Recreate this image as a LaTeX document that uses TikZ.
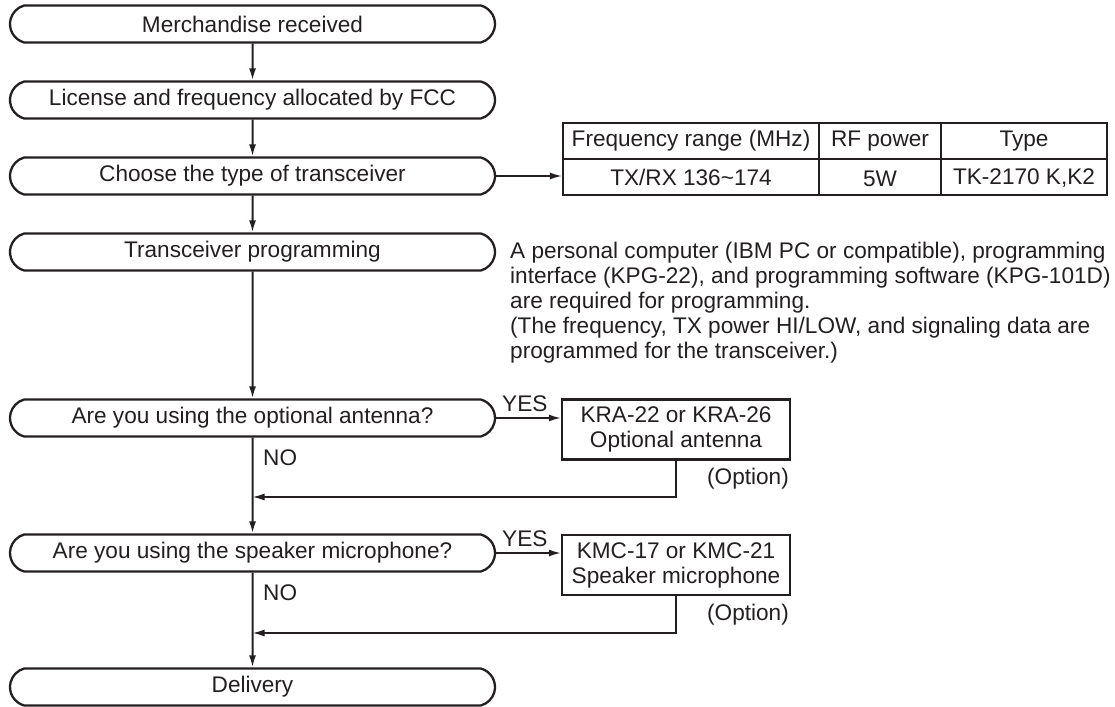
\documentclass[tikz,border=0pt]{standalone}
\usepackage{fontspec}
\setmainfont{Liberation Sans}
\usetikzlibrary{shapes.misc,arrows.meta}
\definecolor{ink}{HTML}{231F20}
\begin{document}
\begin{tikzpicture}[x=1pt,y=-1pt,
  every node/.style={font=\fontsize{22.6}{25}\selectfont, text=ink},
  stepbox/.style={draw=ink, line width=2.3pt, rounded rectangle, rounded rectangle arc length=150,
    minimum width=485pt, minimum height=37pt, inner sep=0pt},
  optbox/.style={draw=ink, line width=2.3pt, minimum width=228pt, minimum height=60pt,
    inner sep=0pt, align=center},
  flow/.style={draw=ink, line width=2pt, -{Latex[length=12pt,width=7pt]}},
  side/.style={draw=ink, line width=1.6pt, -{Latex[length=12pt,width=7pt]}},
  back/.style={draw=ink, line width=1.6pt, -{Latex[length=12pt,width=7pt]}},
  lbl/.style={inner sep=0pt},
]
\useasboundingbox (0,0) rectangle (1115,706);

% main flow boxes
\node[stepbox] (m1) at (252.5,24)  {Merchandise received};
\node[stepbox] (m2) at (252.5,100) {License and frequency allocated by FCC};
\node[stepbox] (m3) at (252.5,176) {Choose the type of transceiver};
\node[stepbox] (m4) at (252.5,252) {Transceiver programming};
\node[stepbox] (m5) at (252.5,418) {Are you using the optional antenna?};
\node[stepbox] (m6) at (252.5,553) {Are you using the speaker microphone?};
\node[stepbox] (m7) at (252.5,687) {Delivery};

% option boxes
\node[optbox] (o1) at (676,429.5) {KRA-22 or KRA-26\\Optional antenna};
\node[optbox] (o2) at (676,565) {KMC-17 or KMC-21\\Speaker microphone};

% table
\node[draw=ink, line width=2.3pt, minimum width=544pt, minimum height=72pt, inner sep=0pt] (tab) at (835,159) {};
\draw[ink, line width=1.7pt] (563,159) -- (1107,159);
\draw[ink, line width=1.7pt] (819,123) -- (819,195);
\draw[ink, line width=1.7pt] (941,123) -- (941,195);
\node[lbl] (t11) at (691,141) {Frequency range (MHz)};
\node[lbl] (t12) at (880,141) {RF power};
\node[lbl] (t13) at (1024,141) {Type};
\node[lbl] (t21) at (691,177) {TX/RX 136\textasciitilde174};
\node[lbl] (t22) at (880,179) {5W};
\node[lbl] (t23) at (1024,178) {TK-2170 K,K2};

% paragraph
\node[lbl, anchor=west, align=left] (note) at (510,303) {A personal computer (IBM PC or compatible), programming\\interface (KPG-22), and programming software (KPG-101D)\\are required for programming.\\(The frequency, TX power HI/LOW, and signaling data are\\programmed for the transceiver.)};

% junction points
\coordinate (j1) at (252.5,497);
\coordinate (j2) at (252.5,633);

% connectors
\draw[flow] (m1) -- (m2);
\draw[flow] (m2) -- (m3);
\draw[flow] (m3) -- (m4);
\draw[flow] (m4) -- (m5);
\draw[flow] (m5) -- (m6);
\draw[flow] (m6) -- (m7);
\draw[side] (m3.east) -- (m3.east -| tab.west);
\draw[side] (m5.east) -- (o1.west |- m5.east);
\draw[side] (m6.east) -- (o2.west |- m6.east);
\draw[back] (o1.south) |- (j1);
\draw[back] (o2.south) |- (j2);

% labels
\node[lbl, anchor=south west] (y1) at (502,412) {YES};
\node[lbl, anchor=south west] (y2) at (502,547) {YES};
\node[lbl, anchor=west] (n1) at (263,458) {NO};
\node[lbl, anchor=west] (n2) at (263,593) {NO};
\node[lbl, anchor=east] (p1) at (789,479) {(Option)};
\node[lbl, anchor=east] (p2) at (789,615) {(Option)};
\end{tikzpicture}
\end{document}
